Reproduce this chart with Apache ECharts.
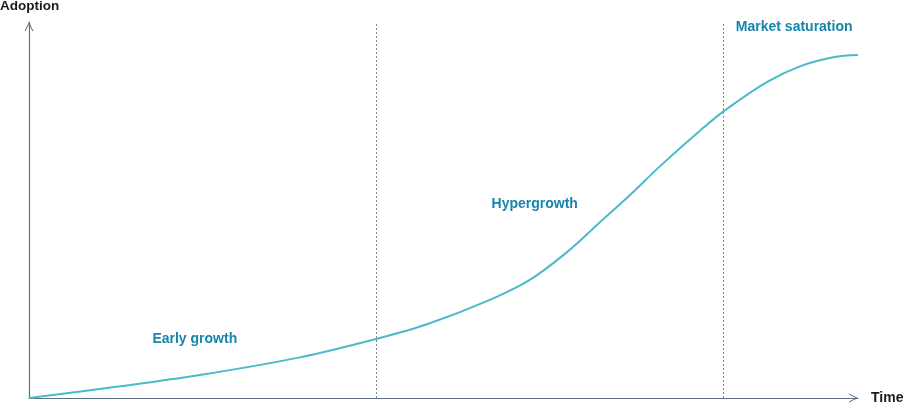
<!DOCTYPE html>
<html>
<head>
<meta charset="utf-8">
<script src="https://cdn.jsdelivr.net/npm/echarts@6/dist/echarts.min.js"></script>
<style>
html,body{margin:0;padding:0;background:#fff;}
#chart{width:903px;height:408px;}
</style>
</head>
<body>
<div id="chart"></div>
<script>
// Data (time 0-100, adoption 0-100)
var timeValues = [0, 11.0, 20.6, 32.7, 41.9, 48.0, 55.6, 60.4, 64.9, 68.9, 72.5, 76.1, 80.9, 83.7, 89.0, 93.0, 97.0, 100];
var adoptionValues = [0, 3.1, 6.1, 10.8, 15.7, 19.6, 26.1, 31.4, 38.8, 46.8, 54.0, 61.6, 71.0, 76.1, 84.0, 88.2, 90.6, 91.2];
var phaseBoundaries = [41.9, 83.7];
var phaseNames = ['Early growth', 'Hypergrowth', 'Market saturation'];
var phaseLabelPos = [[20.0, 15.7], [61.0, 51.6], [92.3, 98.7]];
var axisNames = ['Time', 'Adoption'];

var chart = echarts.init(document.getElementById('chart'));
var axisColor = '#5e6e80';
var chevron = 'path://M0,10 L5,0 L10,10 L8.8,10 L5,2.4 L1.2,10 Z';
var labelColor = '#1784ad';
var fontFamily = '"Liberation Sans", Arial, Helvetica, sans-serif';

var points = timeValues.map(function (t, i) { return [t, adoptionValues[i]]; });

chart.setOption({
  animation: false,
  title: {
    text: axisNames[1], left: 0, top: -1, padding: 0,
    textStyle: { color: '#1a1a1a', fontWeight: 'bold', fontSize: 13.5, fontFamily: fontFamily }
  },
  grid: { left: 29, right: 45, top: 22, bottom: 10, containLabel: false, outerBoundsMode: 'none' },
  xAxis: {
    type: 'value', min: 0, max: 100,
    name: axisNames[0], nameLocation: 'end', nameGap: 13,
    nameTextStyle: { color: '#1a1a1a', fontWeight: 'bold', fontSize: 14, fontFamily: fontFamily, align: 'left', verticalAlign: 'middle', padding: [0,0,0,0] },
    axisLine: { show: true, lineStyle: { color: axisColor, width: 1.2 }, symbol: ['none', chevron], symbolSize: [9, 9], symbolOffset: [0, -4.5] },
    axisTick: { show: false }, axisLabel: { show: false }, splitLine: { show: false }
  },
  yAxis: {
    type: 'value', min: 0, max: 100,
    axisLine: { show: true, lineStyle: { color: axisColor, width: 1.2 }, symbol: ['none', chevron], symbolSize: [9, 9], symbolOffset: [0, -4.5] },
    axisTick: { show: false }, axisLabel: { show: false }, splitLine: { show: false }
  },
  series: [{
    type: 'line',
    data: points,
    smooth: 0.35,
    showSymbol: false,
    clip: false,
    lineStyle: { color: '#4bbac8', width: 2 },
    markLine: {
      silent: true, symbol: 'none',
      label: { show: false },
      lineStyle: { color: '#80868e', type: [2, 2], width: 1 },
      data: phaseBoundaries.map(function (x) { return { xAxis: x }; })
    },
    markPoint: {
      silent: true,
      symbol: 'circle', symbolSize: 0,
      label: { show: true, position: 'inside', color: labelColor, fontWeight: 'bold', fontSize: 14, fontFamily: fontFamily,
        formatter: function (p) { return p.name; } },
      data: phaseNames.map(function (n, i) { return { name: n, coord: phaseLabelPos[i] }; })
    }
  }]
});
</script>
</body>
</html>
